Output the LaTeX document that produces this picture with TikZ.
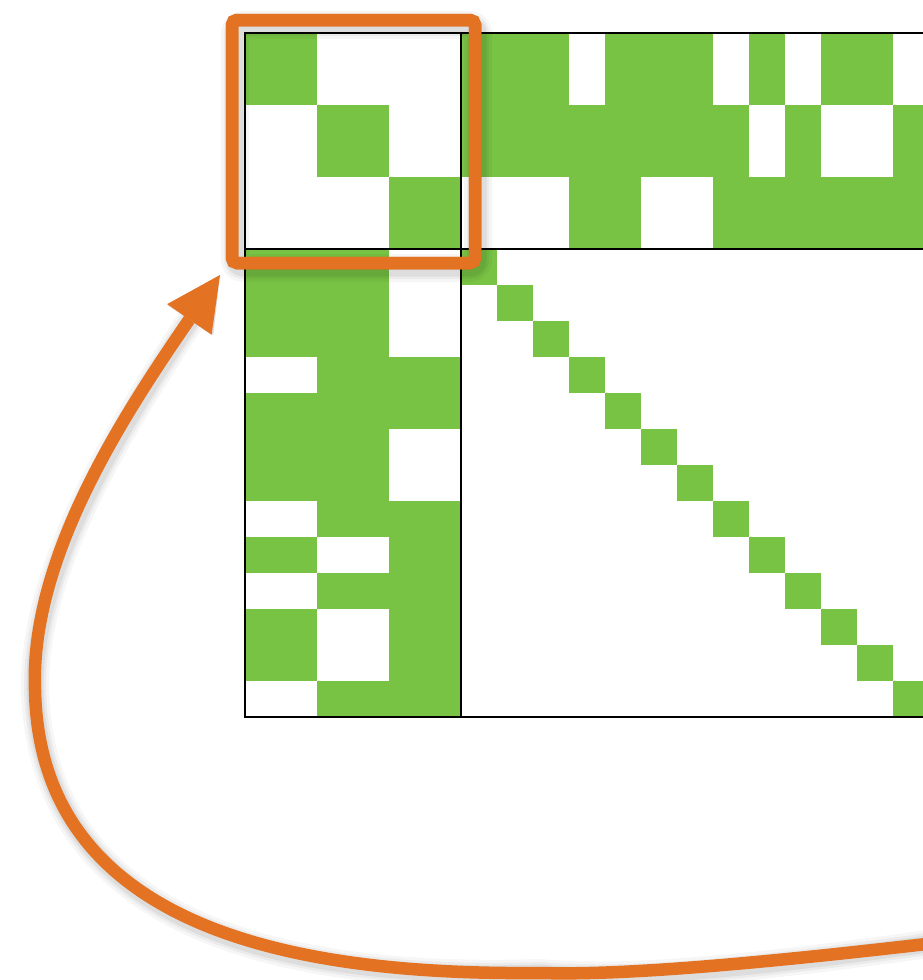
\documentclass[tikz,border=0pt]{standalone}
\usetikzlibrary{arrows.meta}
\definecolor{cellgreen}{RGB}{121,195,68}
\definecolor{hlorange}{RGB}{227,114,34}
\tikzset{
  cell/.style={fill=cellgreen},
  gridline/.style={line width=2.2pt,black},
  hl/.style={draw=hlorange,line width=12.5pt},
  hlshade/.style={draw=black,line join=round,line cap=round},
  hltip/.style={-{Triangle[length=54pt,width=54pt,line width=0pt]}}
}
\begin{document}
\begin{tikzpicture}[x=1pt,y=-1pt]
  \useasboundingbox (0,0) rectangle (923,980);
  % identity blocks
  \foreach \i in {0,1,2}
    \fill[cell] (245+72*\i,33+72*\i) rectangle ++(72,72);
  \foreach \i in {0,...,12}
    \fill[cell] (461+36*\i,249+36*\i) rectangle ++(36,36);
  % off-diagonal blocks: B (top right) and its transpose (bottom left)
  \foreach \r/\bits in {0/{1,1,1,0,1,1,1,0,1,0,1,1,0},
                        1/{1,1,1,1,1,1,1,1,0,1,0,0,1},
                        2/{0,0,0,1,1,0,0,1,1,1,1,1,1}} {
    \foreach \b [count=\c from 0] in \bits {
      \ifnum\b=1
        \fill[cell] (461+36*\c,33+72*\r) rectangle ++(36,72);
        \fill[cell] (245+72*\r,249+36*\c) rectangle ++(72,36);
      \fi
    }
  }
  % block borders
  \draw[gridline] (935,33) -- (245,33) -- (245,717) -- (935,717);
  \draw[gridline] (461,33) -- (461,717);
  \draw[gridline] (245,249) -- (935,249);
  % highlighted block and the loop arrow
  \node[hl,rounded corners=5pt,minimum size=243pt,inner sep=0pt,outer sep=0pt] (blk) at (353.5,141.5) {};
  \coordinate (tail) at (935,943);
  \coordinate (bot) at (540,973);
  \coordinate (lft) at (35,690);
  \coordinate (tip) at ([shift={(-12,12)}]blk.south west);
  % soft shadow
  \foreach \w/\op in {28/.035,22/.045,17/.06} {
    \draw[hlshade,line width=\w pt,opacity=\op,rounded corners=8pt]
      ([shift={(3,5)}]blk.north west) rectangle ([shift={(3,5)}]blk.south east);
    \draw[hlshade,hltip,line width=\w pt,opacity=\op,shift={(3,5)}]
      (tail) .. controls (720,968) and (610,975) .. (bot)
      .. controls (320,975) and (40,940) .. (lft)
      .. controls (30,560) and (120,420) .. (tip);
  }
  \node[hl,rounded corners=5pt,minimum size=243pt,inner sep=0pt,outer sep=0pt] at (blk) {};
  \draw[hl,hltip] (tail) .. controls (720,968) and (610,975) .. (bot)
    .. controls (320,975) and (40,940) .. (lft)
    .. controls (30,560) and (120,420) .. (tip);
\end{tikzpicture}
\end{document}
